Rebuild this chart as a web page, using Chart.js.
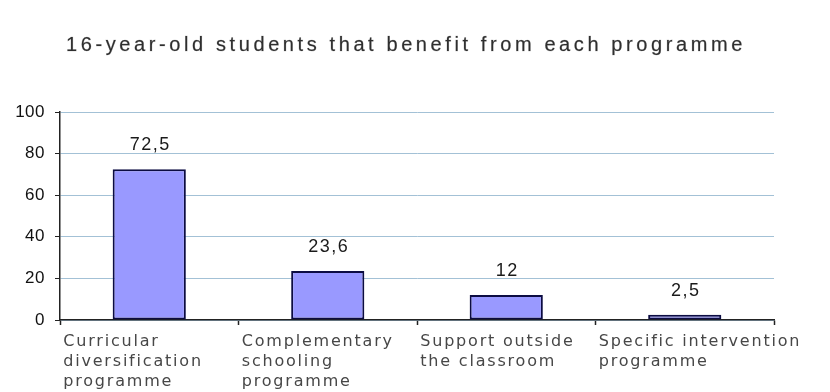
<!DOCTYPE html>
<html>
<head>
<meta charset="utf-8">
<script src="https://cdn.jsdelivr.net/npm/chart.js@4.4.1/dist/chart.umd.min.js"></script>
<style>
  html, body { margin: 0; padding: 0; background: #fff; }
  canvas { display: block; }
</style>
</head>
<body>
<canvas id="programmes" width="830" height="392"></canvas>
<script>
const chartTitle = '16-year-old students that benefit from each programme';
const programmes = [
  ['Curricular', 'diversification', 'programme'],
  ['Complementary', 'schooling', 'programme'],
  ['Support outside', 'the classroom'],
  ['Specific intervention', 'programme']
];
const students = [72.5, 23.6, 12, 2.5];
const yTicks = [0, 20, 40, 60, 80, 100];

// decimal comma, as in the source table
let fmt = v => String(v).replace('.', ',');

// canvas letterSpacing is not a Chart.js font option, so it is switched
// around the draw phases: x labels (z 0) wide, y labels (z 1) narrow
let spacedText = {
  id: 'spacedText',
  beforeDraw(chart) {
    chart.ctx.letterSpacing = '1.8px';
  },
  beforeDatasetsDraw(chart) {
    chart.ctx.letterSpacing = '0px';
  },
  afterDatasetsDraw(chart) {
    let ctx = chart.ctx;
    let meta = chart.getDatasetMeta(0);
    ctx.save();
    ctx.letterSpacing = '1.5px';
    ctx.font = '18px Arial, "Liberation Sans", sans-serif';
    ctx.fillStyle = '#1a1a1a';
    ctx.textAlign = 'center';
    ctx.textBaseline = 'middle';
    meta.data.forEach((bar, i) => {
      ctx.fillText(fmt(students[i]), bar.x + 1, bar.y - 24);
    });
    ctx.restore();
    ctx.letterSpacing = '0.5px';
  },
  afterDraw(chart) {
    let ctx = chart.ctx;
    ctx.save();
    ctx.letterSpacing = '3.6px';
    ctx.font = '20px Arial, "Liberation Sans", sans-serif';
    ctx.fillStyle = '#2f2f2f';
    ctx.strokeStyle = 'rgba(47,47,47,0.35)';
    ctx.lineWidth = 0.6;
    ctx.textAlign = 'center';
    ctx.textBaseline = 'middle';
    ctx.fillText(chartTitle, 406, 45);
    ctx.strokeText(chartTitle, 406, 45);
    ctx.restore();
    ctx.letterSpacing = '0px';
  }
};

new Chart('programmes', {
  type: 'bar',
  plugins: [spacedText],
  data: {
    labels: programmes,
    datasets: [{
      data: students,
      backgroundColor: '#9999ff',
      borderColor: '#0c0c42',
      borderWidth: 2,
      borderSkipped: false,
      barPercentage: 0.41,
      categoryPercentage: 1
    }]
  },
  options: {
    responsive: false,
    animation: false,
    events: [],
    layout: { padding: { top: 112, right: 56, left: 0, bottom: 0 } },
    plugins: {
      legend: { display: false },
      tooltip: { enabled: false },
      title: { display: false }
    },
    scales: {
      x: {
        afterFit(scale) {
          scale.height = 72;
          scale.paddingLeft = 0;
          scale.paddingRight = 0;
        },
        border: { color: '#222', width: 1.5 },
        grid: {
          drawOnChartArea: false,
          tickLength: 5,
          tickColor: '#222',
          tickWidth: 1.5
        },
        ticks: {
          autoSkip: false,
          maxRotation: 0,
          minRotation: 0,
          align: 'start',
          labelOffset: -86,
          padding: 7,
          color: '#474747',
          font: { family: '"DejaVu Sans", Verdana, sans-serif', size: 16, lineHeight: 1.25 }
        }
      },
      y: {
        min: 0,
        max: 100,
        afterFit(scale) { scale.width = 60; },
        afterBuildTicks(scale) {
          scale.ticks = yTicks.map(v => ({ value: v }));
        },
        border: { color: '#222', width: 1.5 },
        grid: {
          color: '#a3c1d6',
          lineWidth: 1,
          tickLength: 5,
          tickColor: '#222'
        },
        ticks: {
          z: 1,
          padding: 10,
          color: '#111',
          font: { family: 'Arial, "Liberation Sans", sans-serif', size: 17 }
        }
      }
    }
  }
});
</script>
</body>
</html>
